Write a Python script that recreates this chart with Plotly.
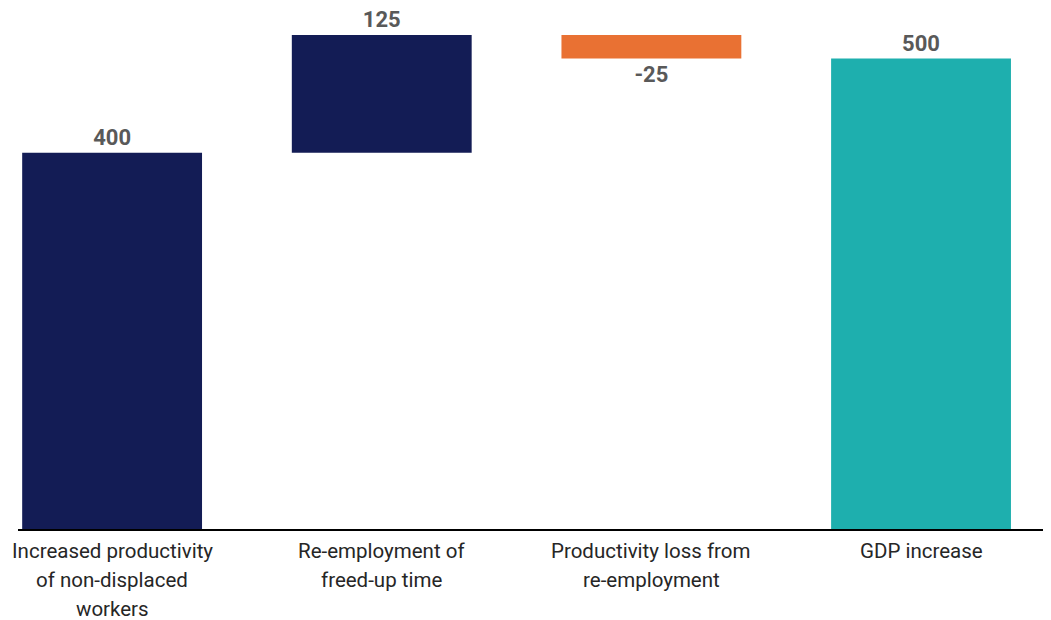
import plotly.graph_objects as go

categories = ["Increased productivity<br>of non-displaced<br>workers",
              "Re-employment of<br>freed-up time",
              "Productivity loss from<br>re-employment",
              "GDP increase"]
measures = ["relative", "relative", "relative", "total"]
values = [400, 125, -25, 0]

total = sum(values[:3])
labels = [str(v) for v in values[:3]] + [str(total)]

NAVY = "#131C55"
ORANGE = "#E97133"
TEAL = "#1EAFAE"

fig = go.Figure(go.Waterfall(
    x=list(range(len(categories))),
    measure=measures,
    y=values,
    text=labels,
    textposition="outside",
    textfont=dict(family="Roboto", size=22, color="#595959", weight="bold"),
    increasing=dict(marker=dict(color=NAVY)),
    decreasing=dict(marker=dict(color=ORANGE)),
    totals=dict(marker=dict(color=TEAL)),
    connector=dict(visible=False),
    width=0.667,
    cliponaxis=False,
))

annotations = []
for i, cat in enumerate(categories):
    for j, line in enumerate(cat.split("<br>")):
        annotations.append(dict(
            x=i, xref="x", y=0, yref="paper", yanchor="top", xanchor="center",
            yshift=-8 - 29 * j, text=line, showarrow=False,
            font=dict(family="Roboto", size=20.5, color="#262626"),
        ))

fig.update_layout(
    width=1051, height=620,
    margin=dict(l=10, r=8, t=12, b=98.5),
    paper_bgcolor="white", plot_bgcolor="white",
    showlegend=False,
    annotations=annotations,
    xaxis=dict(range=[-0.349, 3.482], showticklabels=False, ticks="",
               showgrid=False, zeroline=False, showline=True,
               linecolor="black", linewidth=2, layer="below traces",
               fixedrange=True),
    yaxis=dict(range=[0, 541], visible=False, showgrid=False,
               zeroline=False, fixedrange=True),
)

fig.write_html("out.html")
